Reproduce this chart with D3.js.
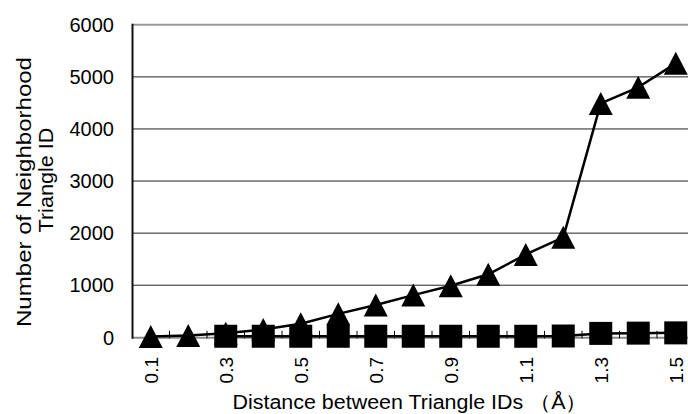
<!DOCTYPE html>
<html><head><meta charset="utf-8">
<script src="https://cdn.jsdelivr.net/npm/d3@7"></script>
<style>body{margin:0;background:#fff;} svg{display:block;}</style>
</head><body>
<svg id="c" width="688" height="414"></svg>
<script>
const categories = ["0.1","0.2","0.3","0.4","0.5","0.6","0.7","0.8","0.9","1.0","1.1","1.2","1.3","1.4","1.5"];
const triangleValues = [15,35,80,150,260,450,620,810,990,1210,1590,1920,4490,4800,5260];
const squareCategories = ["0.3","0.4","0.5","0.6","0.7","0.8","0.9","1.0","1.1","1.2","1.3","1.4","1.5"];
const squareValues = [20,20,20,20,20,20,20,20,20,25,75,80,85];
const yTicks = [0,1000,2000,3000,4000,5000,6000];
const xTickLabels = ["0.1","0.3","0.5","0.7","0.9","1.1","1.3","1.5"];

const svg = d3.select("#c");
const font = "'Liberation Sans', Arial, sans-serif";
const x = d3.scaleBand().domain(categories).range([132, 694.5]);
const y = d3.scaleLinear().domain([0, 6000]).range([337.3, 24.8]);
const cx = c => x(c) + x.bandwidth() / 2;

// gridlines
svg.append("g").selectAll("line").data(yTicks.filter(t => t > 0 && t < 6000)).join("line")
  .attr("x1", 132).attr("x2", 694.5).attr("y1", d => y(d)).attr("y2", d => y(d))
  .attr("stroke", "#222").attr("stroke-width", 1);
// top border
svg.append("line").attr("x1", 132).attr("x2", 694.5).attr("y1", y(6000)).attr("y2", y(6000))
  .attr("stroke", "#999").attr("stroke-width", 2);
// bottom axis (gray)
svg.append("line").attr("x1", 132).attr("x2", 694.5).attr("y1", y(0)+0.5).attr("y2", y(0)+0.5)
  .attr("stroke", "#8a8a8a").attr("stroke-width", 2);
// category ticks
svg.append("g").selectAll("line").data(categories.slice(1)).join("line")
  .attr("x1", d => x(d)).attr("x2", d => x(d)).attr("y1", y(0) - 6.5).attr("y2", y(0) + 1)
  .attr("stroke", "#000").attr("stroke-width", 1);
// left axis
svg.append("line").attr("x1", 132.5).attr("x2", 132.5).attr("y1", y(6000)-1).attr("y2", y(0)+1.5)
  .attr("stroke", "#111").attr("stroke-width", 2);

// y tick labels
svg.append("g").selectAll("text").data(yTicks).join("text")
  .attr("x", 114).attr("y", d => y(d)).attr("dy", "0.36em")
  .attr("text-anchor", "end").attr("font-family", font).attr("font-size", 20).attr("fill", "#000")
  .text(d => d);

// x tick labels
svg.append("g").selectAll("text").data(xTickLabels).join("text")
  .attr("transform", d => `translate(${cx(d)},357) rotate(-90)`)
  .attr("dy", "0.36em").attr("text-anchor", "end")
  .attr("font-family", font).attr("font-size", 19).attr("fill", "#000")
  .text(d => d);

// axis titles
svg.append("text").attr("x", 410).attr("y", 408.5).attr("text-anchor", "middle")
  .attr("font-family", font).attr("font-size", 19.5).attr("fill", "#000")
  .attr("textLength", 355).attr("lengthAdjust", "spacingAndGlyphs")
  .text("Distance between Triangle IDs （Å）");
svg.append("text").attr("transform", "translate(31,192) rotate(-90)").attr("text-anchor", "middle")
  .attr("font-family", font).attr("font-size", 19.5).attr("fill", "#000")
  .attr("textLength", 270).attr("lengthAdjust", "spacingAndGlyphs")
  .text("Number of Neighborhood");
svg.append("text").attr("transform", "translate(52.5,180) rotate(-90)").attr("text-anchor", "middle")
  .attr("font-family", font).attr("font-size", 19.5).attr("fill", "#000")
  .attr("textLength", 105).attr("lengthAdjust", "spacingAndGlyphs")
  .text("Triangle ID");

// custom triangle marker
const triShape = { draw(ctx, size) { const w = 12, h = 11.5;
  ctx.moveTo(0, -h); ctx.lineTo(w, h); ctx.lineTo(-w, h); ctx.closePath(); } };

// triangle series
const triData = categories.map((c, i) => ({c, v: triangleValues[i]}));
const line = d3.line().x(d => cx(d.c)).y(d => y(d.v));
svg.append("path").datum(triData).attr("d", line).attr("fill", "none")
  .attr("stroke", "#000").attr("stroke-width", 2.5).attr("stroke-linejoin", "round");
svg.append("g").selectAll("path").data(triData).join("path")
  .attr("d", d3.symbol().type(triShape)).attr("transform", d => `translate(${cx(d.c)},${y(d.v)})`).attr("fill", "#000");

// square series
const sqData = squareCategories.map((c, i) => ({c, v: squareValues[i]}));
svg.append("path").datum(sqData).attr("d", line).attr("fill", "none")
  .attr("stroke", "#000").attr("stroke-width", 2.5);
svg.append("g").selectAll("rect").data(sqData).join("rect")
  .attr("x", d => cx(d.c) - 11.5).attr("y", d => y(d.v) - 11.5)
  .attr("width", 23).attr("height", 23).attr("fill", "#000");
</script>
</body></html>
